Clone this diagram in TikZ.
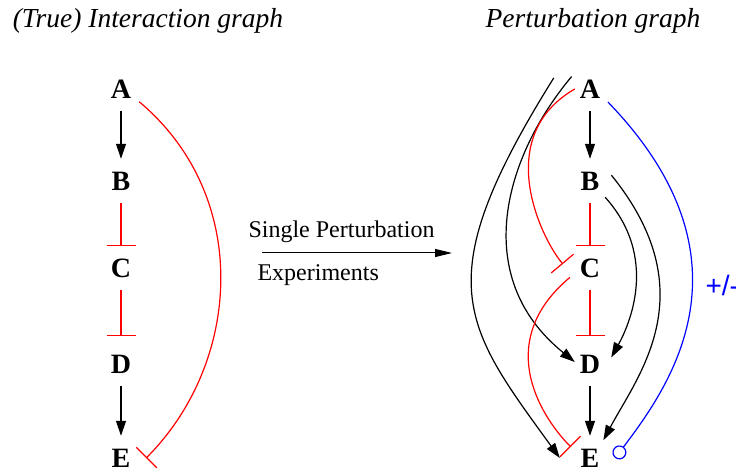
\documentclass[tikz,border=0pt]{standalone}
\usepackage{fontspec}
\setmainfont{Liberation Serif}
\setsansfont{Liberation Sans}
\usetikzlibrary{arrows.meta}

\tikzset{
    vert/.style={circle, minimum size=44pt, inner sep=0pt,
        font=\bfseries\fontsize{28}{30}\selectfont},
    act/.style={-{Triangle[length=15pt,width=10pt]}, line width=1.2pt},
    inh/.style={-{Bar[width=29pt]}, line width=1.2pt, red},
    unk/.style={-{Circle[open,length=14pt]}, line width=1.2pt, blue},
    title/.style={font=\itshape\fontsize{27.5}{30}\selectfont}
}

\begin{document}
\begin{tikzpicture}[x=1pt,y=1pt]
    \useasboundingbox (0,0) rectangle (736,473);

    % Titles
    \node[title] (ttl1) at (148,452) {(True) Interaction graph};
    \node[title] (ttl2) at (593,452) {Perturbation graph};

    % True graph
    \node[vert] (tA) at (121,384) {A};
    \node[vert] (tB) at (121,292) {B};
    \node[vert] (tC) at (121,205) {C};
    \node[vert] (tD) at (121,109) {D};
    \node[vert] (tE) at (121,15) {E};

    \draw[act] (tA) -- (tB);
    \draw[inh] (tB) -- (tC);
    \draw[inh, shorten >=6pt] (tC) -- (tD);
    \draw[act] (tD) -- (tE);
    \draw[inh] (tA.-35) .. controls +(-40:148) and +(45:134) .. ([xshift=3pt]tE.east);

    % Experiments arrow
    \coordinate (expL) at (262,220);
    \coordinate (expR) at (452,220);
    \draw[line width=1pt, -{Triangle[length=17pt,width=8pt]}] (expL) -- (expR);
    \node[anchor=west, font=\fontsize{24}{26}\selectfont] (sp) at (245,241) {Single Perturbation};
    \node[anchor=west, font=\fontsize{24}{26}\selectfont] (ex) at (254,198) {Experiments};

    % Perturbation graph
    \node[vert] (pA) at (590,384) {A};
    \node[vert] (pB) at (590,292) {B};
    \node[vert] (pC) at (590,205) {C};
    \node[vert] (pD) at (590,109) {D};
    \node[vert] (pE) at (590,15) {E};

    \draw[act] (pA) -- (pB);
    \draw[inh] (pB) -- (pC);
    \draw[inh, shorten >=6pt] (pC) -- (pD);
    \draw[act] (pD) -- (pE);

    % indirect effects
    \draw[act] ([xshift=-17pt]pA.150) .. controls +(-122:240) and +(126:165) .. ([xshift=-8pt]pE.west);
    \draw[act] (pA.146) .. controls +(-130:102) and +(141:137) .. ([shift={(7,2)}]pD.west);
    \draw[inh] ([xshift=7pt]pA.west) .. controls +(-150:95) and +(130:35) .. ([shift={(-5,4)}]pC.west);
    \draw[inh] (pC.-155) .. controls +(-140:105) and +(135:35) .. (pE.150);
    \draw[act] (pB.-47) .. controls +(-48:81) and +(61:37) .. (pD.17);
    \draw[act] (pB.15) .. controls +(-51:151) and +(62:73) .. (pE.53);
    \draw[unk] (pA.-36) .. controls +(-46:220) and +(53:89) .. ([xshift=3pt]pE.east);
    \node[anchor=west, blue, font=\sffamily\fontsize{28}{30}\selectfont] (pm) at (702,188) {+/-};
\end{tikzpicture}
\end{document}
